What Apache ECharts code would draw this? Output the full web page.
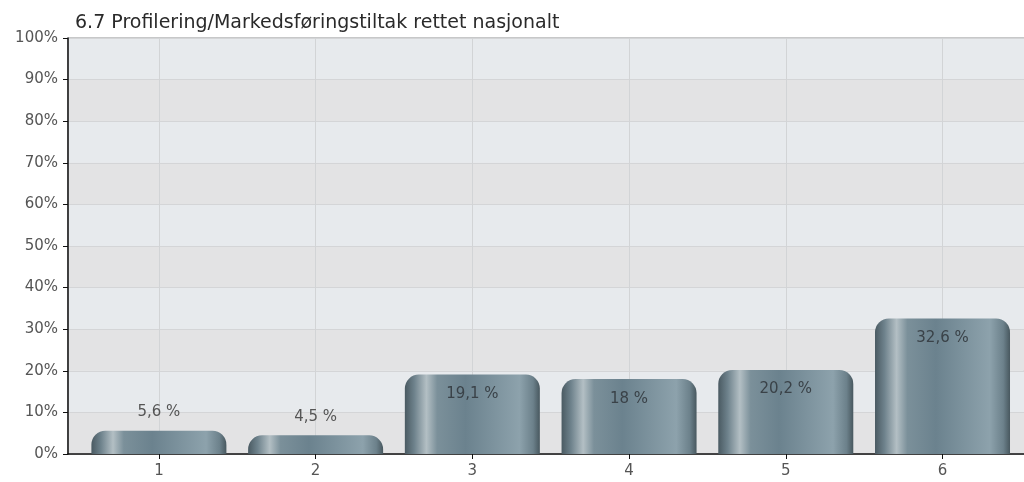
<!DOCTYPE html>
<html>
<head>
<meta charset="utf-8">
<script src="https://cdn.jsdelivr.net/npm/echarts@6/dist/echarts.min.js"></script>
<style>
html, body { margin: 0; padding: 0; background: #fff; }
#chart { width: 1024px; height: 482px; }
</style>
</head>
<body>
<div id="chart"></div>
<script>
var titleText = '6.7 Profilering/Markedsføringstiltak rettet nasjonalt';
var categories = [1, 2, 3, 4, 5, 6];
var percents = [5.6, 4.5, 19.1, 18, 20.2, 32.6];
var valueLabels = ['5,6 %', '4,5 %', '19,1 %', '18 %', '20,2 %', '32,6 %'];

var myChart = echarts.init(document.getElementById('chart'));

var barColor = new echarts.graphic.LinearGradient(0, 0, 1, 0, [
    { offset: 0, color: '#4a5a62' },
    { offset: 0.07, color: '#6e828c' },
    { offset: 0.16, color: '#b3bfc4' },
    { offset: 0.24, color: '#7b909a' },
    { offset: 0.45, color: '#6b828e' },
    { offset: 0.85, color: '#8da2ac' },
    { offset: 0.95, color: '#6c818b' },
    { offset: 1, color: '#48585f' }
]);

var option = {
    backgroundColor: '#fff',
    animation: false,
    title: {
        text: titleText,
        left: 70,
        top: 9,
        textStyle: { fontFamily: 'DejaVu Sans', fontSize: 19, fontWeight: 'normal', color: '#2a2a2a' }
    },
    grid: {
        left: 68, right: -1, top: 38, bottom: 28,
        show: true, borderWidth: 1, borderColor: '#8f9193', backgroundColor: '#e6e8eb'
    },
    xAxis: {
        type: 'value',
        min: 0.42,
        max: 6.52,
        splitNumber: 6,
        axisLine: { show: true, onZero: false, lineStyle: { color: '#111', width: 1.5 } },
        axisTick: { show: true, length: 5, lineStyle: { color: '#111' } },
        axisLabel: {
            showMinLabel: false, showMaxLabel: false,
            fontFamily: 'DejaVu Sans', fontSize: 15, color: '#555', margin: 10,
            formatter: function (v) { return categories.indexOf(v) >= 0 ? String(v) : ''; }
        },
        splitLine: { show: true, lineStyle: { color: '#d2d4d6' } }
    },
    yAxis: {
        type: 'value',
        min: 0, max: 100, interval: 10,
        axisLine: { show: true, lineStyle: { color: '#111', width: 1.5 } },
        axisTick: { show: true, length: 5, lineStyle: { color: '#111' } },
        axisLabel: {
            fontFamily: 'DejaVu Sans', fontSize: 15, color: '#555', margin: 10,
            formatter: '{value}%'
        },
        splitLine: { show: true, lineStyle: { color: '#d4d5d7' } },
        splitArea: { show: true, areaStyle: { color: ['#e3e3e4', '#e7eaed'] } }
    },
    series: [{
        type: 'bar',
        barWidth: 135,
        data: categories.map(function (c, i) {
            var outside = percents[i] < 10;
            return {
                value: [c, percents[i]],
                label: {
                    show: true,
                    position: outside ? 'top' : 'insideTop',
                    distance: outside ? 11 : 12,
                    formatter: valueLabels[i],
                    fontFamily: 'DejaVu Sans',
                    fontSize: 15,
                    color: outside ? '#555' : '#3a4248'
                }
            };
        }),
        itemStyle: {
            color: barColor,
            borderRadius: [14, 14, 0, 0]
        }
    }]
};

myChart.setOption(option);
</script>
</body>
</html>
